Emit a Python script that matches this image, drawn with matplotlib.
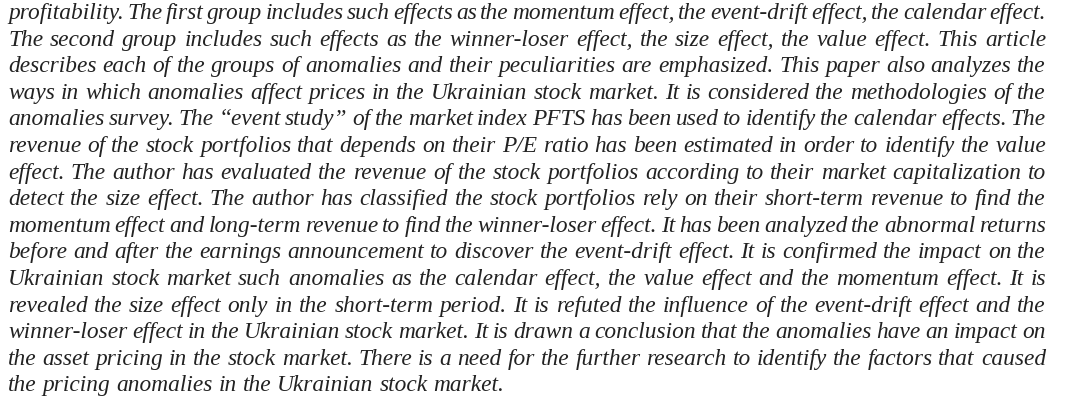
import matplotlib
matplotlib.use('Agg')
import matplotlib.pyplot as plt

# lines of the paragraph, as broken in the reference
lines = [
    "profitability. The first group includes such effects as the momentum effect, the event-drift effect, the calendar effect.",
    "The second group includes such effects as the winner-loser effect, the size effect, the value effect. This article",
    "describes each of the groups of anomalies and their peculiarities are emphasized. This paper also analyzes the",
    "ways in which anomalies affect prices in the Ukrainian stock market. It is considered the methodologies of the",
    "anomalies survey. The \u201cevent study\u201d of the market index PFTS has been used to identify the calendar effects. The",
    "revenue of the stock portfolios that depends on their P/E ratio has been estimated in order to identify the value",
    "effect. The author has evaluated the revenue of the stock portfolios according to their market capitalization to",
    "detect the size effect. The author has classified the stock portfolios rely on their short-term revenue to find the",
    "momentum effect and long-term revenue to find the winner-loser effect. It has been analyzed the abnormal returns",
    "before and after the earnings announcement to discover the event-drift effect. It is confirmed the impact on the",
    "Ukrainian stock market such anomalies as the calendar effect, the value effect and the momentum effect. It is",
    "revealed the size effect only in the short-term period. It is refuted the influence of the event-drift effect and the",
    "winner-loser effect in the Ukrainian stock market. It is drawn a conclusion that the anomalies have an impact on",
    "the asset pricing in the stock market. There is a need for the further research to identify the factors that caused",
    "the pricing anomalies in the Ukrainian stock market.",
]

W, H = 1082, 406
left, right = 8, 1046
first_base, step = 19, 26.6
color = '#222222'

fig = plt.figure(figsize=(W / 100, H / 100), dpi=100)
fig.patch.set_facecolor('white')
renderer = fig.canvas.get_renderer()

font = dict(family='Liberation Serif', style='italic', color=color)


def width(s, size):
    t = fig.text(0, 0, s, fontsize=size, **font)
    w = t.get_window_extent(renderer).width
    t.remove()
    return w


# pick a font size so the tightest full line fits the column with tight spaces
base = 10.0
space_w = width("a a", base) - width("aa", base)
natural = max(width(l, base) for l in lines[:-1])
size = base * (right - left) / natural * 1.04

for i, line in enumerate(lines):
    y = 1 - (first_base + i * step) / H
    words = line.split(' ')
    ws = [width(w, size) for w in words]
    if i < len(lines) - 1 and len(words) > 1:
        gap = (right - left - sum(ws)) / (len(words) - 1)
    else:
        gap = space_w * size / base
    x = left
    for w, wd in zip(words, ws):
        fig.text(x / W, y, w, fontsize=size, ha='left', va='baseline', **font)
        x += wd + gap

fig.savefig('out.png', dpi=100, facecolor='white')
